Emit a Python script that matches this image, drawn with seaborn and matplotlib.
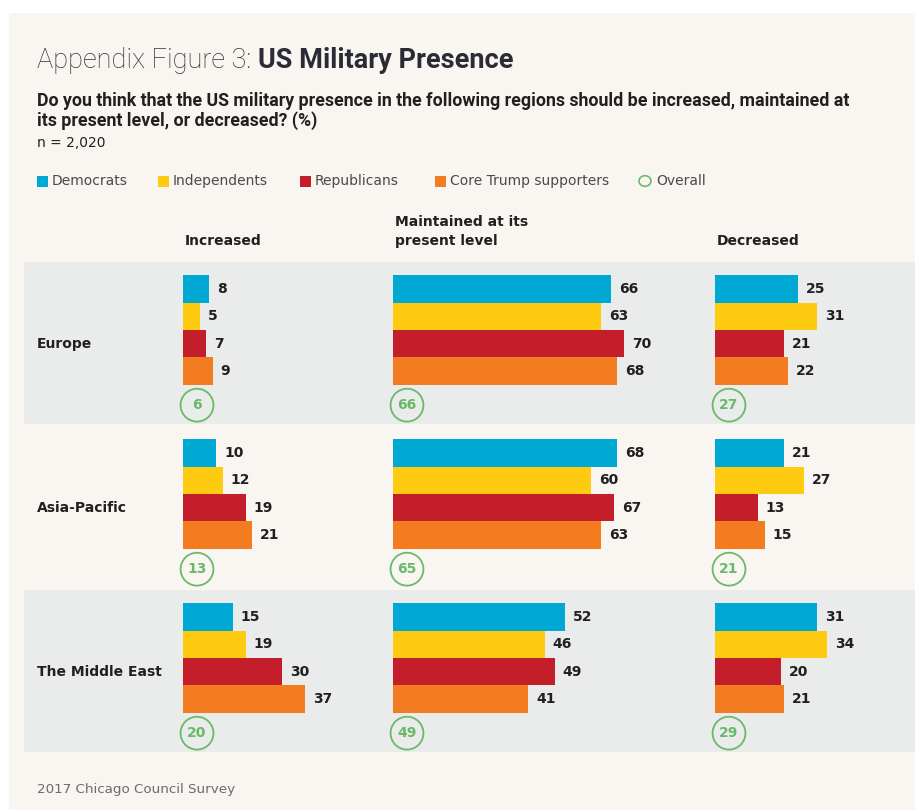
import numpy as np
import pandas as pd
import matplotlib
matplotlib.use("Agg")
import matplotlib.pyplot as plt
import seaborn as sns
from matplotlib.patches import Rectangle

# data
regions = ["Europe", "Asia-Pacific", "The Middle East"]
parties = ["Democrats", "Independents", "Republicans", "Core Trump supporters"]
columns = ["Increased", "Maintained at its\npresent level", "Decreased"]

increased = [[8, 5, 7, 9], [10, 12, 19, 21], [15, 19, 30, 37]]
maintained = [[66, 63, 70, 68], [68, 60, 67, 63], [52, 46, 49, 41]]
decreased = [[25, 31, 21, 22], [21, 27, 13, 15], [31, 34, 20, 21]]
overall_increased = [6, 13, 20]
overall_maintained = [66, 65, 49]
overall_decreased = [27, 21, 29]

colors = ["#00a9d4", "#ffcb10", "#c41e2a", "#f47c20"]
green = "#6ab96a"
dark = "#231f20"
cream = "#f9f6f1"
band = "#eaeceb"

W, H = 915, 810
sns.set_theme(style="white")
plt.rcParams["font.family"] = ["DejaVu Sans"]

fig = plt.figure(figsize=(W / 100, H / 100), dpi=100)
fig.patch.set_facecolor("white")


def px(x, y):
    # pixel (top-left origin) to figure fraction
    return x / W, 1 - y / H


# background panel and bands
fig.patches.append(Rectangle((9 / W, 0), 1, 1 - 13 / H, transform=fig.transFigure,
                             facecolor=cream, edgecolor="none", zorder=-10))
for top, bot in [(262, 424), (590, 752)]:
    fig.patches.append(Rectangle((24 / W, 1 - bot / H), 1, (bot - top) / H,
                                 transform=fig.transFigure, facecolor=band,
                                 edgecolor="none", zorder=-9))

# long table of bars
slots = []
for r in regions:
    slots += [f"{r}|{p}" for p in parties] + [f"{r}|gap1", f"{r}|gap2"]

rows = []
for ri, r in enumerate(regions):
    for pi, p in enumerate(parties):
        rows.append({"slot": f"{r}|{p}", "party": p,
                     "Increased": increased[ri][pi],
                     "Maintained": maintained[ri][pi],
                     "Decreased": decreased[ri][pi]})
df = pd.DataFrame(rows)

slot_px = 164 / 6
first_center = 289
y_top = 262
y_bot = 752
ppu = 3.3  # pixels per percentage point

col_specs = [("Increased", 183, 200, overall_increased),
             ("Maintained", 393, 300, overall_maintained),
             ("Decreased", 715, 200, overall_decreased)]

for key, left, width, overall in col_specs:
    l, b = px(left, y_bot)
    ax = fig.add_axes([l, b, width / W, (y_bot - y_top) / H])
    sns.barplot(data=df, y="slot", x=key, hue="party", order=slots,
                hue_order=parties, palette=colors, orient="h", dodge=False,
                width=1.0, legend=False, ax=ax, linewidth=0, saturation=1)
    ax.set_xlim(0, width / ppu)
    ax.set_ylim((y_bot - first_center) / slot_px, (y_top - first_center) / slot_px)
    ax.set_axis_off()
    ax.patch.set_alpha(0)
    for ri, r in enumerate(regions):
        for pi, p in enumerate(parties):
            v = df.loc[df.slot == f"{r}|{p}", key].iloc[0]
            ax.text(v + 8 / ppu, ri * 6 + pi, str(v), ha="left", va="center",
                    fontsize=10, fontweight="bold", color=dark)
        yc = ri * 6 + 4.25
        ax.scatter([14 / ppu], [yc], s=560, facecolors="none", edgecolors=green,
                   linewidths=1.3, clip_on=False)
        ax.text(14 / ppu, yc, str(overall[ri]), ha="center", va="center",
                fontsize=10, fontweight="bold", color=green)

# region labels
for ri, r in enumerate(regions):
    yc = first_center + (ri * 6 + 2.0) * slot_px
    fig.text(*px(37, yc), r, ha="left", va="center", fontsize=10,
             fontweight="bold", color=dark)

# column headers
for (key, left, width, overall), name in zip(col_specs, columns):
    fig.text(*px(left + 2, 248), name, ha="left", va="bottom", fontsize=10,
             fontweight="bold", color=dark, linespacing=1.5)

# title
t1 = fig.text(*px(37, 60), "Appendix Figure 3: ", ha="left", va="center",
              fontsize=19.5, fontweight="light", color="#333333",
              family=["Roboto", "DejaVu Sans"])
fig.canvas.draw()
bb = t1.get_window_extent()
fig.text(bb.x1 / W, 1 - 60 / H, "US Military Presence", ha="left", va="center",
         fontsize=19.5, fontweight="bold", color="#2b2b35",
         family=["Roboto", "DejaVu Sans"])

fig.text(*px(37, 111), "Do you think that the US military presence in the following regions "
         "should be increased, maintained at\nits present level, or decreased? (%)",
         ha="left", va="center", fontsize=12.8, fontweight="bold", color=dark,
         linespacing=1.1, family=["Roboto", "DejaVu Sans"])
fig.text(*px(37, 143), "n = 2,020", ha="left", va="center", fontsize=10, color=dark)

# legend
leg_x = [37, 158, 300, 435]
for x, p, c in zip(leg_x, parties, colors):
    fig.patches.append(Rectangle((x / W, 1 - 187 / H), 11 / W, 11 / H,
                                 transform=fig.transFigure, facecolor=c, edgecolor="none"))
    fig.text(*px(x + 15, 181), p, ha="left", va="center", fontsize=10, color="#4a4a4a")
fig.patches.append(plt.Circle(px(645, 181), 6 / W, transform=fig.transFigure,
                              facecolor="none", edgecolor=green, linewidth=1.2))
fig.text(*px(656, 181), "Overall", ha="left", va="center", fontsize=10, color="#4a4a4a")

fig.text(*px(37, 789), "2017 Chicago Council Survey", ha="left", va="center",
         fontsize=9.7, color="#6b6b6b")

fig.savefig("out.png", dpi=100, facecolor=fig.get_facecolor())
